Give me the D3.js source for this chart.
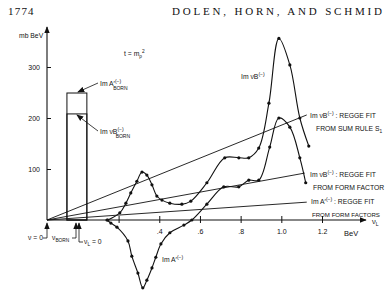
<!DOCTYPE html>
<html>
<head>
<meta charset="utf-8">
<script src="https://cdn.jsdelivr.net/npm/d3@7"></script>
<style>
  body { margin: 0; background: #fff; }
  svg { display: block; }
  text { fill: #111; }
  .lbl { font-family: "Liberation Sans", Arial, sans-serif; font-size: 6.8px; }
  .tick text { font-family: "Liberation Sans", Arial, sans-serif; font-size: 7px; }
</style>
</head>
<body>
<div id="chart"></div>
<script>
// Im nu B(-) data points (nu_L in BeV, mb BeV)
const nuBx = [0.147, 0.206, 0.236, 0.26, 0.29, 0.315, 0.339, 0.364, 0.388, 0.413, 0.452, 0.511, 0.555,
  0.634, 0.722, 0.791, 0.84, 0.889, 0.939, 0.988, 1.042, 1.091, 1.135];
const nuBy = [0, 14, 33, 53, 76, 94, 88, 69, 47, 39, 33, 31, 37,
  73, 122, 122, 122, 141, 229, 356, 304, 200, 145];

// Im A'(-) data points
const imAx = [0.143, 0.162, 0.192, 0.246, 0.265, 0.295, 0.319, 0.339, 0.364, 0.383, 0.408, 0.452, 0.521,
  0.56, 0.634, 0.717, 0.791, 0.84, 0.889, 0.943, 0.988, 1.042, 1.091, 1.12];
const imAy = [0, -6, -14, -41, -71, -104, -133, -118, -94, -73, -47, -25, -10,
  0, 31, 65, 65, 78, 78, 143, 200, 182, 122, 73];

// Regge fits: straight lines from nu = 0, end points
const reggeEndX = [1.125, 1.115, 1.125];
const reggeEndY = [206, 92, 35];

// Born terms
const bornHeights = [249, 208];
const bornRange = [-0.054, 0.044];

const nuZero = -0.152;  // nu = 0 on the nu_L axis
const xTicks = [0.2, 0.4, 0.6, 0.8, 1.0, 1.2];
const xTickLabels = ["", ".4", ".6", ".8", "1.0", "1.2"];
const yTicks = [100, 200, 300];

const svgWidth = 385, svgHeight = 292;

const svg = d3.select("#chart").append("svg")
  .attr("width", svgWidth)
  .attr("height", svgHeight);

const defs = svg.append("defs");
defs.append("marker")
  .attr("id", "arr")
  .attr("viewBox", "0 0 10 10")
  .attr("refX", 9).attr("refY", 5)
  .attr("markerWidth", 7).attr("markerHeight", 7)
  .attr("markerUnits", "userSpaceOnUse")
  .attr("orient", "auto")
  .append("path").attr("d", "M0,1 L10,5 L0,9 Z").attr("fill", "#111");

const x = d3.scaleLinear().domain([nuZero, 1.2]).range([47, 322]);
const y = d3.scaleLinear().domain([0, 300]).range([220, 67]);

// header
svg.append("text").attr("x", 8).attr("y", 15)
  .style("font-family", "Liberation Serif, serif").style("font-size", "11px")
  .style("letter-spacing", "1.2px")
  .text("1774");
svg.append("text").attr("x", 172).attr("y", 15)
  .style("font-family", "Liberation Serif, serif").style("font-size", "11px")
  .attr("textLength", 210).attr("lengthAdjust", "spacing")
  .text("DOLEN, HORN, AND SCHMID");

// axes
const xAxis = d3.axisBottom(x).tickValues(xTicks)
  .tickSize(-5).tickPadding(9)
  .tickFormat((d, i) => xTickLabels[i]);
const gx = svg.append("g").attr("transform", `translate(0,${y(0)})`).call(xAxis);
gx.select(".domain").remove();
gx.selectAll(".tick line").attr("y2", -4).attr("y1", 3).attr("stroke", "#111");

const yAxis = d3.axisLeft(y).tickValues(yTicks).tickSize(-4).tickPadding(7);
const gy = svg.append("g").attr("transform", `translate(${x(nuZero)},0)`).call(yAxis);
gy.select(".domain").remove();
gy.selectAll(".tick line").attr("stroke", "#111");

svg.append("line")
  .attr("x1", x(nuZero)).attr("y1", y(0)).attr("x2", 366).attr("y2", y(0))
  .attr("stroke", "#111").attr("stroke-width", 1.1).attr("marker-end", "url(#arr)");
svg.append("line")
  .attr("x1", x(nuZero)).attr("y1", y(0)).attr("x2", x(nuZero)).attr("y2", 27)
  .attr("stroke", "#111").attr("stroke-width", 1.1).attr("marker-end", "url(#arr)");

svg.append("text").attr("class", "lbl").attr("x", 19).attr("y", 38).text("mb BeV");
svg.append("text").attr("class", "lbl").attr("x", 344).attr("y", 236)
  .style("font-size", "7.5px").text("BeV");
const nuL = svg.append("text").attr("class", "lbl").attr("x", 372).attr("y", 224)
  .style("font-size", "7.5px").text("ν");
nuL.append("tspan").attr("dy", 2).style("font-size", "5px").text("L");

const tLab = svg.append("text").attr("class", "lbl").attr("x", 124).attr("y", 56).text("t = m");
tLab.append("tspan").attr("dy", 1.5).style("font-size", "4.8px").text("ρ");
tLab.append("tspan").attr("dy", -4.5).style("font-size", "4.8px").text("2");

// Born bars
bornHeights.forEach(h => {
  svg.append("rect")
    .attr("x", x(bornRange[0])).attr("y", y(h))
    .attr("width", x(bornRange[1]) - x(bornRange[0]))
    .attr("height", y(0) - y(h))
    .attr("fill", "none").attr("stroke", "#111").attr("stroke-width", 1);
});

// Regge fit lines
reggeEndX.forEach((ex, i) => {
  svg.append("line")
    .attr("x1", x(nuZero)).attr("y1", y(0))
    .attr("x2", x(ex)).attr("y2", y(reggeEndY[i]))
    .attr("stroke", "#111").attr("stroke-width", 0.9);
});

// curves
const line = d3.line()
  .x(d => x(d[0])).y(d => y(d[1]))
  .curve(d3.curveCatmullRom.alpha(0.5));

[[nuBx, nuBy], [imAx, imAy]].forEach(([xs, ys]) => {
  const pts = xs.map((v, i) => [v, ys[i]]);
  svg.append("path").datum(pts).attr("d", line)
    .attr("fill", "none").attr("stroke", "#111").attr("stroke-width", 1.1);
  svg.append("g").selectAll("circle").data(pts).enter().append("circle")
    .attr("cx", d => x(d[0])).attr("cy", d => y(d[1])).attr("r", 1.6)
    .attr("fill", "#111");
});

// labels with superscripts
function label(xp, yp, main, sup, sub, rest) {
  const t = svg.append("text").attr("class", "lbl").attr("x", xp).attr("y", yp);
  t.append("tspan").text(main);
  if (sup) t.append("tspan").attr("dy", -3).style("font-size", "5px").text(sup);
  if (sub) t.append("tspan").attr("dx", sup ? -8 : 0).attr("dy", 6.5).style("font-size", "5px").text(sub);
  if (rest) t.append("tspan").attr("dy", sub ? -3.5 : 3).text(rest);
  return t;
}

label(100, 86, "Im  A′", "(−)", "BORN");
label(100, 134, "Im  νB", "(−)", "BORN");
label(241, 79, "Im  νB", "(−)");
label(162, 262, "Im  A′", "(−)");
label(310, 118, "Im  νB", "(−)", null, " : REGGE FIT");
const s1 = svg.append("text").attr("class", "lbl").attr("x", 316).attr("y", 131).text("FROM SUM RULE S");
s1.append("tspan").attr("dy", 1.5).style("font-size", "4.8px").text("1");
label(310, 177, "Im  νB", "(−)", null, " : REGGE FIT");
svg.append("text").attr("class", "lbl").attr("x", 313).attr("y", 190).text("FROM FORM FACTOR");
label(311, 204, "Im  A′", "(−)", null, " : REGGE FIT");
svg.append("text").attr("class", "lbl").attr("x", 312).attr("y", 217)
  .style("font-size", "6.1px")
  .text("FROM FORM FACTORS");

// pointers to the Born tops
svg.append("path").attr("d", `M98,83 L${x(0)},${y(bornHeights[0]) - 1}`)
  .attr("stroke", "#111").attr("fill", "none").attr("stroke-width", 0.8).attr("marker-end", "url(#arr)");
svg.append("path").attr("d", `M98,131 L90,125 L${x(0) - 1},${y(bornHeights[1]) + 1}`)
  .attr("stroke", "#111").attr("fill", "none").attr("stroke-width", 0.8).attr("marker-end", "url(#arr)");

// bottom markers nu = 0, nu_BORN, nu_L = 0
svg.append("text").attr("class", "lbl").attr("x", 28).attr("y", 240).text("ν = 0");
svg.append("path").attr("d", `M43,238 L${x(nuZero)},238 L${x(nuZero)},223`)
  .attr("stroke", "#111").attr("fill", "none").attr("stroke-width", 0.8).attr("marker-end", "url(#arr)");
const b2 = svg.append("text").attr("class", "lbl").attr("x", 52).attr("y", 240).text("ν");
b2.append("tspan").attr("dy", 1.5).style("font-size", "4.8px").text("BORN");
svg.append("path").attr("d", `M72,238 L76,238 L76,223`)
  .attr("stroke", "#111").attr("fill", "none").attr("stroke-width", 0.8).attr("marker-end", "url(#arr)");
svg.append("path").attr("d", `M83,242 L79,242 L79,223`)
  .attr("stroke", "#111").attr("fill", "none").attr("stroke-width", 0.8).attr("marker-end", "url(#arr)");
const b3 = svg.append("text").attr("class", "lbl").attr("x", 84).attr("y", 244).text("ν");
b3.append("tspan").attr("dy", 1.5).style("font-size", "4.8px").text("L");
b3.append("tspan").attr("dy", -1.5).text(" = 0");
</script>
</body>
</html>
